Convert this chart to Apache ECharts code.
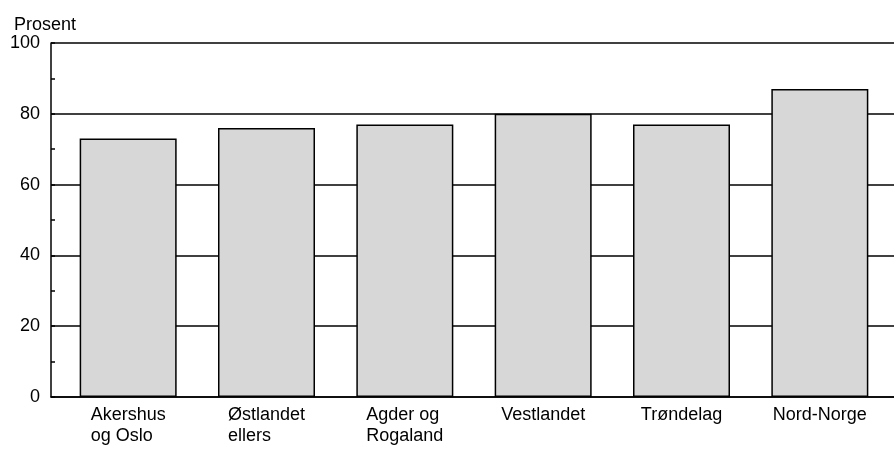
<!DOCTYPE html>
<html>
<head>
<meta charset="utf-8">
<script src="https://cdn.jsdelivr.net/npm/echarts@6/dist/echarts.min.js"></script>
<style>
  html, body { margin: 0; padding: 0; background: #fff; }
  #chart { width: 894px; height: 450px; }
</style>
</head>
<body>
<div id="chart"></div>
<script>
// regioner og andel (prosent)
const regions = ['Akershus\nog Oslo', 'Østlandet\nellers', 'Agder og\nRogaland', 'Vestlandet', 'Trøndelag', 'Nord-Norge'];
const values = [73, 76, 77, 80, 77, 87];
const yTicks = [0, 20, 40, 60, 80, 100];

const font = 'Liberation Sans, Arial, sans-serif';
const chart = echarts.init(document.getElementById('chart'));

const option = {
  animation: false,
  backgroundColor: '#fff',
  title: {
    text: 'Prosent',
    left: 9,
    top: 11,
    textStyle: { fontFamily: font, fontSize: 18, fontWeight: 'normal', color: '#000' }
  },
  grid: [
    // grid 0: y-akse og rutenett
    { left: 51, right: 0, top: 43, bottom: 53 },
    // grid 1: søyler og kategorier
    { left: 59, right: 5, top: 43, bottom: 53 }
  ],
  xAxis: [
    {
      gridIndex: 0,
      type: 'category',
      data: regions,
      axisLine: { show: true, lineStyle: { color: '#000', width: 1.5 } },
      axisTick: { show: false },
      axisLabel: { show: false },
      splitLine: { show: false }
    },
    {
      gridIndex: 1,
      type: 'category',
      data: regions,
      axisLine: { show: false },
      axisTick: { show: false },
      axisLabel: {
        margin: 8,
        align: 'center',
        formatter: v => v.split('\n').map(s => '{a|' + s + '}').join('\n'),
        rich: {
          a: { align: 'left', fontFamily: font, fontSize: 18, color: '#000', lineHeight: 21 }
        }
      }
    }
  ],
  yAxis: [
    {
      gridIndex: 0,
      type: 'value',
      min: yTicks[0],
      max: yTicks[yTicks.length - 1],
      interval: 20,
      axisLine: { show: true, lineStyle: { color: '#000', width: 1.5 } },
      axisTick: { show: true, inside: true, length: 4, lineStyle: { color: '#000', width: 1.5 } },
      minorTick: { show: true, splitNumber: 2, length: 4, lineStyle: { color: '#000', width: 1.5 } },
      splitLine: { show: true, lineStyle: { color: '#000', width: 1.5 } },
      axisLabel: { margin: 11, fontFamily: font, fontSize: 18, color: '#000' }
    },
    {
      gridIndex: 1,
      type: 'value',
      min: yTicks[0],
      max: yTicks[yTicks.length - 1],
      show: false,
      splitLine: { show: false }
    }
  ],
  series: [
    {
      type: 'bar',
      xAxisIndex: 1,
      yAxisIndex: 1,
      data: values,
      barWidth: 97,
      itemStyle: { color: '#d7d7d7', borderColor: '#000', borderWidth: 1.5 }
    }
  ]
};

chart.setOption(option);
</script>
</body>
</html>
